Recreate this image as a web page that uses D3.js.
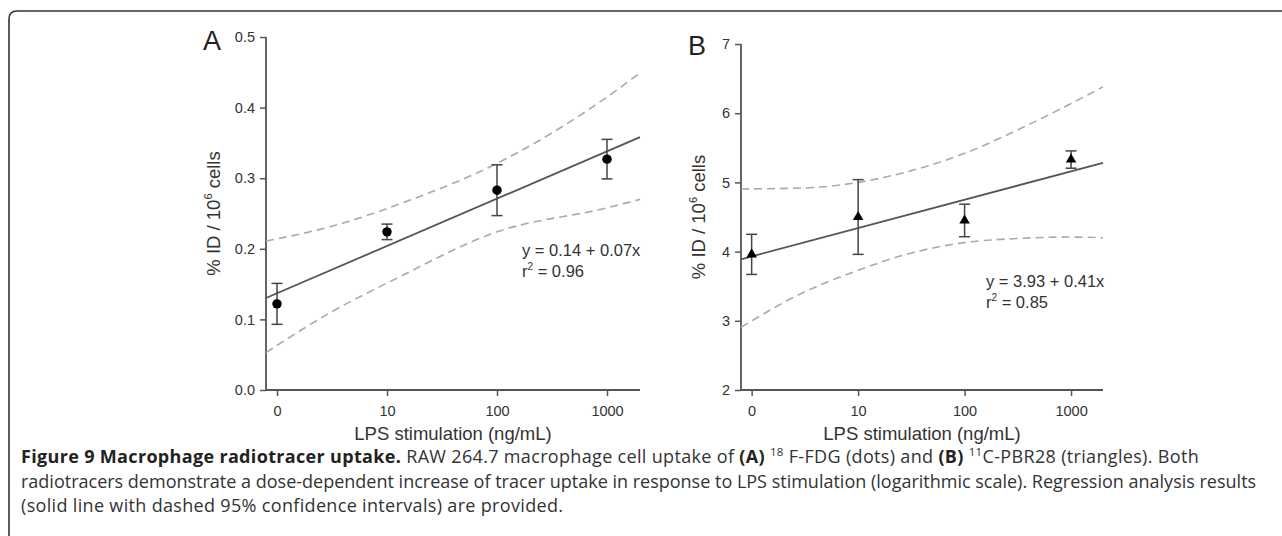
<!DOCTYPE html>
<html><head><meta charset="utf-8">
<script src="https://cdn.jsdelivr.net/npm/d3@7"></script>
<style>
html,body{margin:0;padding:0;background:#fff;}
svg{display:block;}
</style></head>
<body>
<svg id="chart" width="1282" height="536"></svg>
<script>
// ---------- data ----------
const doseLabels = ["0", "10", "100", "1000"];      // LPS ng/mL (log axis)
const dosePos = [0, 1, 2, 3];                        // log10 positions (0 dose at 0)
const fdgMean = [0.122, 0.224, 0.283, 0.327];
const fdgErr  = [0.029, 0.011, 0.036, 0.028];
const pbrMean = [3.96, 4.50, 4.45, 5.33];
const pbrErr  = [0.29, 0.54, 0.235, 0.125];
const fitA = [0.137, 0.067];                         // intercept, slope
const fitB = [3.93, 0.41];
const ciAUpperX = [-0.1, 0.5, 1.21, 2.0, 3.0, 3.3];
const ciAUpperY = [0.211, 0.232, 0.269, 0.321, 0.415, 0.449];
const ciALowerX = [-0.1, 0.5, 1.06, 2.0, 3.0, 3.3];
const ciALowerY = [0.053, 0.111, 0.156, 0.224, 0.258, 0.270];
const ciBUpperX = [-0.1, 0.5, 1.0, 1.5, 2.0, 2.5, 3.0, 3.3];
const ciBUpperY = [4.905, 4.92, 5.0, 5.17, 5.42, 5.76, 6.14, 6.38];
const ciBLowerX = [-0.1, 0.5, 1.0, 1.5, 2.0, 2.5, 3.0, 3.3];
const ciBLowerY = [2.906, 3.42, 3.73, 3.98, 4.13, 4.19, 4.21, 4.20];
const yTicksA = [0.0, 0.1, 0.2, 0.3, 0.4, 0.5];
const yTicksB = [2, 3, 4, 5, 6, 7];

const svg = d3.select("#chart");
const FONT = "Arial, 'Liberation Sans', Helvetica, sans-serif";

// frame
svg.append("path")
  .attr("d", "M9,536 L9,19 Q9,11 17,11 L1282,11")
  .attr("fill", "none").attr("stroke", "#333").attr("stroke-width", 1.6);

function panel(cfg) {
  const x = d3.scaleLinear().domain([-0.1, 3.3]).range(cfg.xr);
  const y = d3.scaleLinear().domain(cfg.yd).range([390, cfg.ytop]);
  const g = svg.append("g");
  const axisColor = "#555";

  const ya = g.append("g").attr("transform", `translate(${cfg.xr[0]},0)`)
    .call(d3.axisLeft(y).tickValues(cfg.yTicks).tickFormat(cfg.yFmt).tickSize(6).tickPadding(5));
  const xa = g.append("g").attr("transform", `translate(0,390)`)
    .call(d3.axisBottom(x).tickValues(dosePos).tickFormat((d, i) => doseLabels[i]).tickSize(6).tickPadding(10));
  [ya, xa].forEach(a => {
    a.select(".domain").attr("stroke", axisColor).attr("stroke-width", 1.8);
    a.selectAll(".tick line").attr("stroke", axisColor).attr("stroke-width", 1.5);
    a.selectAll("text").attr("fill", "#333").attr("font-size", 14.5).attr("font-family", FONT);
  });
  ya.select(".domain").attr("d", `M-0,${cfg.ytop}V390`);
  xa.select(".domain").attr("d", `M${cfg.xr[0]},0H${cfg.xr[1]}`);

  const lineGen = d3.line().x(d => x(d[0])).y(d => y(d[1])).curve(d3.curveMonotoneX);
  [[cfg.upX, cfg.upY], [cfg.loX, cfg.loY]].forEach(([xs, ys]) => {
    g.append("path").datum(xs.map((v, i) => [v, ys[i]]))
      .attr("d", lineGen).attr("fill", "none").attr("stroke", "#aaa")
      .attr("stroke-width", 1.6).attr("stroke-dasharray", "8,5");
  });
  const dom = x.domain();
  g.append("path").datum(dom.map(v => [v, cfg.fit[0] + cfg.fit[1] * v]))
    .attr("d", d3.line().x(d => x(d[0])).y(d => y(d[1])))
    .attr("stroke", "#555").attr("stroke-width", 1.8).attr("fill", "none");

  const eb = g.selectAll(".eb").data(dosePos).enter().append("g");
  eb.append("line").attr("x1", d => x(d)).attr("x2", d => x(d))
    .attr("y1", (d, i) => y(cfg.mean[i] + cfg.err[i])).attr("y2", (d, i) => y(cfg.mean[i] - cfg.err[i]));
  eb.append("line").attr("x1", d => x(d) - 5.5).attr("x2", d => x(d) + 5.5)
    .attr("y1", (d, i) => y(cfg.mean[i] + cfg.err[i])).attr("y2", (d, i) => y(cfg.mean[i] + cfg.err[i]));
  eb.append("line").attr("x1", d => x(d) - 5.5).attr("x2", d => x(d) + 5.5)
    .attr("y1", (d, i) => y(cfg.mean[i] - cfg.err[i])).attr("y2", (d, i) => y(cfg.mean[i] - cfg.err[i]));
  eb.selectAll("line").attr("stroke", "#444").attr("stroke-width", 1.5);

  g.selectAll(".mk").data(dosePos).enter().append("path")
    .attr("transform", (d, i) => `translate(${x(d)},${y(cfg.mean[i])})`)
    .attr("d", d3.symbol().type(cfg.symbol).size(cfg.symSize))
    .attr("fill", "#000");

  g.append("text").attr("x", cfg.letterX).attr("y", cfg.letterY).text(cfg.letter)
    .attr("font-family", FONT).attr("font-size", 27).attr("fill", "#222");

  const yt = g.append("text")
    .attr("transform", `translate(${cfg.ytX},${(390 + cfg.ytop) / 2}) rotate(-90)`)
    .attr("text-anchor", "middle").attr("font-family", FONT).attr("font-size", 18.5).attr("fill", "#333");
  yt.append("tspan").text("% ID / 10");
  yt.append("tspan").text("6").attr("font-size", 11).attr("dy", -8);
  yt.append("tspan").text(" cells").attr("dy", 8);

  g.append("text").attr("x", (cfg.xr[0] + cfg.xr[1]) / 2).attr("y", 440)
    .attr("text-anchor", "middle").attr("font-family", FONT).attr("font-size", 18.5).attr("fill", "#333")
    .text("LPS stimulation (ng/mL)");

  const eq = g.append("text").attr("font-family", FONT).attr("font-size", 16.5).attr("fill", "#333");
  eq.append("tspan").attr("x", cfg.eqX).attr("y", cfg.eqY).text(cfg.eq1);
  const r2 = g.append("text").attr("font-family", FONT).attr("font-size", 16.5).attr("fill", "#333")
    .attr("x", cfg.eqX).attr("y", cfg.eqY + 20.5);
  r2.append("tspan").text("r");
  r2.append("tspan").text("2").attr("font-size", 10).attr("dy", -7);
  r2.append("tspan").text(" = " + cfg.r2).attr("dy", 7);
}

panel({
  xr: [266, 640], yd: [0, 0.5], ytop: 37, yTicks: yTicksA, yFmt: d3.format(".1f"),
  mean: fdgMean, err: fdgErr, fit: fitA,
  upX: ciAUpperX, upY: ciAUpperY, loX: ciALowerX, loY: ciALowerY,
  symbol: d3.symbolCircle, symSize: 70,
  letter: "A", letterX: 203, letterY: 50, ytX: 220,
  eqX: 522, eqY: 256, eq1: "y = 0.14 + 0.07x", r2: "0.96"
});
panel({
  xr: [741, 1103], yd: [2, 7], ytop: 44, yTicks: yTicksB, yFmt: d3.format("d"),
  mean: pbrMean, err: pbrErr, fit: fitB,
  upX: ciBUpperX, upY: ciBUpperY, loX: ciBLowerX, loY: ciBLowerY,
  symbol: d3.symbolTriangle, symSize: 48,
  letter: "B", letterX: 688, letterY: 55, ytX: 705,
  eqX: 986, eqY: 287, eq1: "y = 3.93 + 0.41x", r2: "0.85"
});

// caption
const CF = "'Open Sans', 'Noto Sans', sans-serif";
const cap = svg.append("text").attr("font-family", CF).attr("font-size", 18).attr("fill", "#333");
const l1 = cap.append("tspan").attr("x", 21).attr("y", 463).attr("letter-spacing", 0.33);
l1.append("tspan").text("Figure 9 Macrophage radiotracer uptake.").attr("font-weight", "bold").attr("fill", "#222");
l1.append("tspan").text(" RAW 264.7 macrophage cell uptake of ");
l1.append("tspan").text("(A)").attr("font-weight", "bold").attr("fill", "#222");
l1.append("tspan").text(" ");
l1.append("tspan").text("18").attr("font-size", 11.5).attr("dy", -7);
l1.append("tspan").text(" F-FDG (dots) and ").attr("dy", 7);
l1.append("tspan").text("(B)").attr("font-weight", "bold").attr("fill", "#222");
l1.append("tspan").text(" ");
l1.append("tspan").text("11").attr("font-size", 11.5).attr("dy", -7);
l1.append("tspan").text("C-PBR28 (triangles). Both").attr("dy", 7);
cap.append("tspan").attr("x", 21).attr("y", 488)
  .text("radiotracers demonstrate a dose-dependent increase of tracer uptake in response to LPS stimulation (logarithmic scale). Regression analysis results");
cap.append("tspan").attr("x", 21).attr("y", 512).attr("letter-spacing", 0.33)
  .text("(solid line with dashed 95% confidence intervals) are provided.");
</script>
</body></html>
